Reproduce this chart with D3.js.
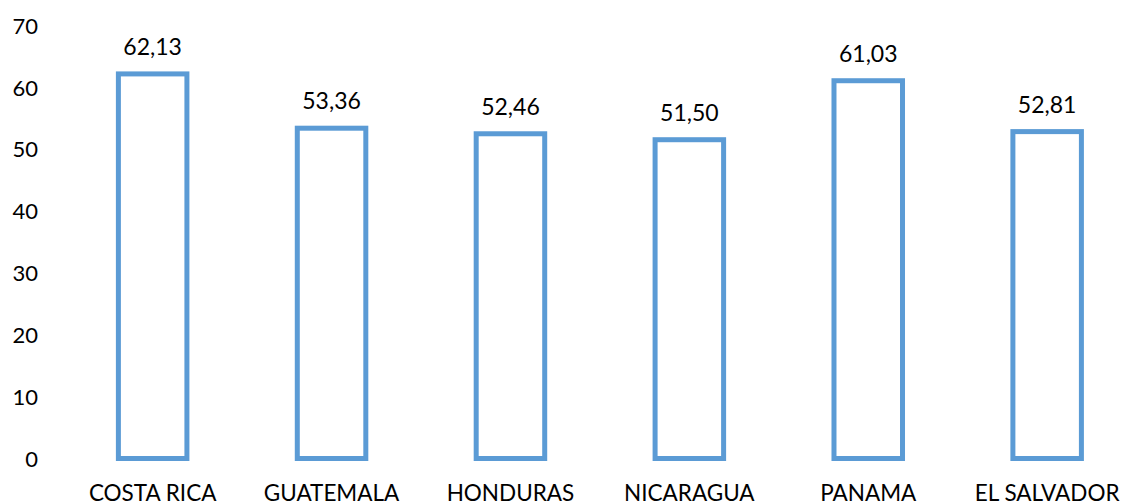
<!DOCTYPE html>
<html><head><meta charset="utf-8">
<script src="https://cdn.jsdelivr.net/npm/d3@7"></script>
<style>html,body{margin:0;padding:0;background:#fff;}svg{display:block;}</style>
</head><body>
<svg id="c" width="1123" height="504"></svg>
<script>
const categories = ["COSTA RICA","GUATEMALA","HONDURAS","NICARAGUA","PANAMA","EL SALVADOR"];
const values = [62.13, 53.36, 52.46, 51.50, 61.03, 52.81];
const yTicks = [0,10,20,30,40,50,60,70];

const W = 1123, H = 504;
const svg = d3.select("#c");
const font = "Lato, 'Open Sans', sans-serif";
const left = 63.2, step = 178.9;
const x = d3.scaleBand().domain(categories).range([left, left + step*categories.length]).paddingInner(0.617).paddingOuter(0.3085);
const y = d3.scaleLinear().domain([0,70]).range([458.5, 25.2]);

const yAxis = d3.axisLeft(y).tickValues(yTicks).tickSize(0).tickPadding(0);
const gy = svg.append("g").attr("transform","translate(38,0)").call(yAxis);
gy.select(".domain").remove();
gy.selectAll("text").attr("font-family",font).attr("font-size",22).attr("fill","#000").attr("dy","0.36em");

const xAxis = d3.axisBottom(x).tickSize(0).tickPadding(0);
const gx = svg.append("g").attr("transform","translate(0,0)").call(xAxis);
gx.select(".domain").remove();
gx.selectAll("text").attr("font-family",font).attr("font-size",22.5).attr("fill","#000").attr("y",500.5).attr("dy",0);

svg.append("g").selectAll("rect").data(values).join("rect")
  .attr("x",(d,i)=>x(categories[i]))
  .attr("y",d=>y(d))
  .attr("width",x.bandwidth())
  .attr("height",d=>y(0)-y(d))
  .attr("fill","none").attr("stroke","#5B9BD5").attr("stroke-width",5);

const fmt = d => d.toFixed(2).replace(".",",");
svg.append("g").selectAll("text").data(values).join("text")
  .attr("x",(d,i)=>x(categories[i])+x.bandwidth()/2)
  .attr("y",d=>y(d)-19)
  .attr("text-anchor","middle")
  .attr("font-family",font).attr("font-size",23).attr("fill","#000")
  .text(fmt);
</script>
</body></html>
